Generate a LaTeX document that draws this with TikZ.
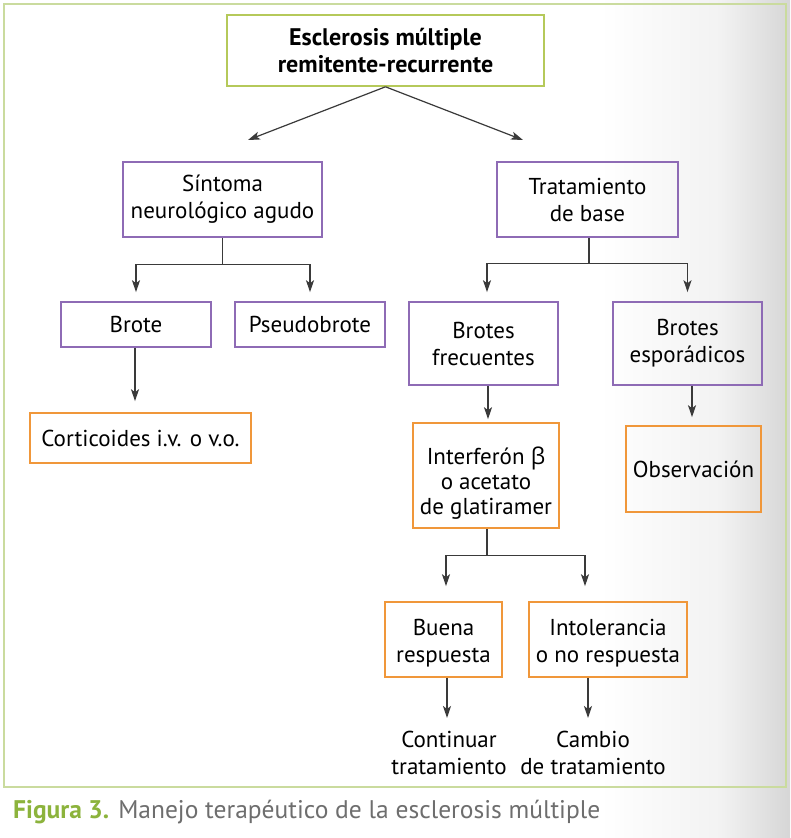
\documentclass[tikz,border=0pt]{standalone}
\usepackage{fontspec}
\setmainfont{PT Sans}
\newfontfamily\griega{Open Sans}
\usetikzlibrary{arrows.meta}
\definecolor{verdemarco}{HTML}{CADB9E}
\definecolor{verdecaja}{HTML}{B5C95A}
\definecolor{morado}{HTML}{8E6BB5}
\definecolor{naranja}{HTML}{F0973A}
\definecolor{verdefig}{HTML}{8CB33C}
\definecolor{grisfig}{HTML}{6E6E6E}
\definecolor{linea}{HTML}{3A3A3A}

\begin{document}
\begin{tikzpicture}[x=1pt,y=1pt]
	\tikzstyle{every node}+=[inner sep=0pt, align=center, font=\fontsize{23}{27}\selectfont]
	\tikzstyle{caja}=[draw, line width=1.6pt]
	\tikzstyle{cajaverde}=[caja, draw=verdecaja, font=\fontsize{24}{27}\selectfont\bfseries]
	\tikzstyle{cajamorada}=[caja, draw=morado]
	\tikzstyle{cajanaranja}=[caja, draw=naranja]
	\tikzstyle{conector}=[draw=linea, line width=1.2pt]
	\tikzstyle{flecha}=[conector, -{Stealth[length=12pt,width=8pt,inset=3pt]}]
	\useasboundingbox (0,0) rectangle (790,-838);
	\fill [white] (0,0) rectangle (600,-838);
	\shade [left color=white, right color=black!5] (600,0) rectangle (720,-838);
	\shade [left color=black!5, right color=black!16] (720,0) rectangle (790,-838);
	\draw [verdemarco, line width=1.6pt] (4,-4) rectangle (786,-787);
	\node [cajaverde, minimum width=317, minimum height=71] (raiz) at (385.5,-50.5) {Esclerosis múltiple\\remitente-recurrente};
	\node [cajamorada, minimum width=199, minimum height=75] (sintoma) at (222.5,-199.5) {Síntoma\\neurológico agudo};
	\node [cajamorada, minimum width=181, minimum height=75] (base) at (587.5,-199.5) {Tratamiento\\de base};
	\node [cajamorada, minimum width=150, minimum height=45] (brote) at (136,-324.5) {Brote};
	\node [cajamorada, minimum width=150, minimum height=45] (pseudo) at (310,-324.5) {Pseudobrote};
	\node [cajamorada, minimum width=149, minimum height=83] (frecuentes) at (483.5,-343.5) {Brotes\\frecuentes};
	\node [cajamorada, minimum width=149, minimum height=83] (esporadicos) at (687.5,-343.5) {Brotes\\esporádicos};
	\node [cajanaranja, minimum width=221, minimum height=50] (corticoides) at (140.5,-438) {Corticoides i.v. o v.o.};
	\node [cajanaranja, minimum width=146, minimum height=105, font=\fontsize{23}{25}\selectfont] (interferon) at (486,-475.5) {\rule{0pt}{32pt}Interferón {\griega β}\\o acetato\\de glatiramer};
	\node [cajanaranja, minimum width=135, minimum height=86] (observacion) at (693.5,-469) {Observación};
	\node [cajanaranja, minimum width=117, minimum height=75] (buena) at (443.5,-639.5) {\rule{0pt}{24pt}Buena\\respuesta};
	\node [cajanaranja, minimum width=158, minimum height=75] (intolerancia) at (608,-639.5) {\rule{0pt}{24pt}Intolerancia\\o no respuesta};
	\node (continuar) at (449,-753) {Continuar\\tratamiento};
	\node (cambio) at (593,-753) {Cambio\\de tratamiento};
	\node [anchor=base west, font=\fontsize{25.5}{28}\selectfont, text=grisfig] (pie) at (13,-818) {{\color{verdefig}\bfseries Figura 3.} Manejo terapéutico de la esclerosis múltiple};
	\coordinate (izq) at (248,-140);
	\coordinate (der) at (523,-140);
	\draw [flecha] (raiz.south) -- (izq);
	\draw [flecha] (raiz.south) -- (der);
	\coordinate (nsintoma) at ([yshift=-27pt]sintoma.south);
	\draw [conector] (sintoma.south) -- (nsintoma);
	\draw [flecha, shorten >=9pt] (nsintoma) -| (brote.north);
	\draw [flecha, shorten >=9pt] (nsintoma) -| (pseudo.north);
	\coordinate (nbase) at ([xshift=1.5pt,yshift=-26pt]base.south);
	\draw [conector] ([xshift=1.5pt]base.south) -- (nbase);
	\draw [flecha, shorten >=9pt] (nbase) -| ([xshift=3.5pt]frecuentes.north);
	\draw [flecha, shorten >=9pt] (nbase) -| (esporadicos.north);
	\draw [flecha, shorten >=11pt] ([xshift=-1pt]brote.south) -- ([xshift=-1pt]brote.south |- corticoides.north);
	\draw [flecha, shorten >=3pt] ([xshift=4.5pt]frecuentes.south) -- ([xshift=4.5pt]frecuentes.south |- interferon.north);
	\draw [flecha, shorten >=8pt] ([xshift=4.5pt]esporadicos.south) -- ([xshift=4.5pt]esporadicos.south |- observacion.north);
	\coordinate (ninterferon) at ([xshift=1pt,yshift=-27pt]interferon.south);
	\draw [conector] ([xshift=1pt]interferon.south) -- (ninterferon);
	\draw [flecha, shorten >=15pt] (ninterferon) -| ([xshift=2.5pt]buena.north);
	\draw [flecha, shorten >=15pt] (ninterferon) -| ([xshift=-23pt]intolerancia.north);
	\draw [flecha, shorten >=13pt] ([xshift=3.5pt]buena.south) -- ([xshift=3.5pt]buena.south |- continuar.north);
	\draw [flecha, shorten >=13pt] ([xshift=-20pt]intolerancia.south) -- ([xshift=-20pt]intolerancia.south |- cambio.north);
\end{tikzpicture}
\end{document}
